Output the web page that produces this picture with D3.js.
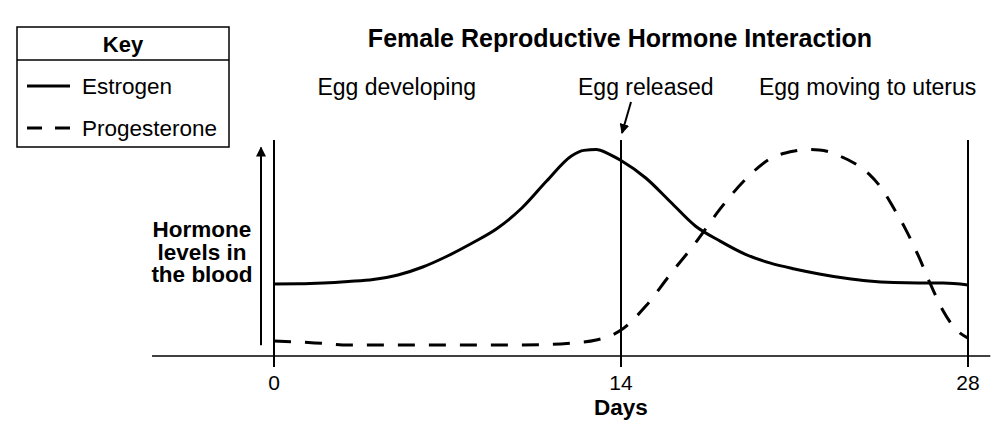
<!DOCTYPE html>
<html>
<head>
<meta charset="utf-8">
<script src="https://cdn.jsdelivr.net/npm/d3@7"></script>
<style>
  body { margin: 0; background: #fff; }
  svg { font-family: "Liberation Sans", Arial, sans-serif; }
  .bold { font-weight: bold; }
</style>
</head>
<body>
<svg width="1003" height="436"></svg>
<script>
// hormone levels (arbitrary 0-100 scale)
var estrogenDays = [0, 1, 2, 3, 4, 5, 6, 7, 8, 9, 10, 11, 12, 12.5, 13, 13.5, 14, 15, 16, 17, 18, 19, 20, 21, 22, 23, 24, 25, 26, 27, 28];
var estrogen = [33.3, 33.4, 33.8, 34.5, 35.4, 37.5, 41.2, 46.3, 52.3, 59.0, 68.5, 81.0, 92.6, 95.2, 95.6, 93.6, 90.5, 82.4, 71.3, 60.2, 53.2, 47.2, 43.1, 40.3, 38.0, 36.1, 34.7, 34.0, 33.8, 33.8, 32.9];

var progesteroneDays = [0, 1, 2, 3, 5, 7, 9, 11, 12, 13, 14, 15, 16, 17, 18, 19, 20, 21, 21.5, 22, 23, 24, 24.5, 25, 25.5, 26, 26.5, 27, 27.5, 28];
var progesterone = [6.9, 6.5, 5.8, 5.1, 5.1, 5.1, 5.1, 5.3, 6.0, 7.4, 12.0, 23.1, 38.0, 52.3, 68.1, 81.5, 91.2, 94.9, 95.6, 95.4, 91.7, 84.3, 77.8, 68.5, 58.3, 46.3, 32.9, 20.8, 12.5, 8.3];

var dayTicks = [0, 14, 28];
var phases = ["Egg developing", "Egg released", "Egg moving to uterus"];
var phaseCenters = [4.95, 15.0, 23.95];
var seriesNames = ["Estrogen", "Progesterone"];

var svg = d3.select("svg");

var x = d3.scaleLinear().domain([0, 28]).range([274, 968]);
var y = d3.scaleLinear().domain([0, 100]).range([356, 140]);

var line = d3.line()
    .x(function (d) { return x(d[0]); })
    .y(function (d) { return y(d[1]); })
    .curve(d3.curveMonotoneX);

// arrow marker
svg.append("defs").append("marker")
    .attr("id", "arrow")
    .attr("viewBox", "0 0 10 10")
    .attr("refX", 9).attr("refY", 5)
    .attr("markerWidth", 10).attr("markerHeight", 10)
    .attr("markerUnits", "userSpaceOnUse")
    .attr("orient", "auto")
  .append("path")
    .attr("d", "M0,0 L10,5 L0,10 z")
    .attr("fill", "#000");

// x baseline
svg.append("line")
    .attr("x1", x(-4.92)).attr("x2", x(28.9))
    .attr("y1", y(0)).attr("y2", y(0))
    .attr("stroke", "#000").attr("stroke-width", 1.6);

// vertical day lines
svg.selectAll(".day-line")
    .data(dayTicks)
  .enter().append("line")
    .attr("class", "day-line")
    .attr("x1", function (d) { return x(d); })
    .attr("x2", function (d) { return x(d); })
    .attr("y1", y(100))
    .attr("y2", y(0) + 11)
    .attr("stroke", "#000").attr("stroke-width", 2);

svg.selectAll(".day-label")
    .data(dayTicks)
  .enter().append("text")
    .attr("class", "day-label")
    .attr("x", function (d) { return x(d); })
    .attr("y", 390)
    .attr("text-anchor", "middle")
    .attr("font-size", 21)
    .text(function (d) { return d; });

svg.append("text")
    .attr("class", "bold")
    .attr("x", x(14))
    .attr("y", 415)
    .attr("text-anchor", "middle")
    .attr("font-size", 22.5)
    .text("Days");

// y arrow
svg.append("line")
    .attr("x1", 261).attr("x2", 261)
    .attr("y1", y(5)).attr("y2", y(96.5))
    .attr("stroke", "#000").attr("stroke-width", 2)
    .attr("marker-end", "url(#arrow)");

var yLabel = svg.append("text")
    .attr("class", "bold")
    .attr("text-anchor", "middle")
    .attr("font-size", 22.5);
["Hormone", "levels in", "the blood"].forEach(function (t, i) {
  yLabel.append("tspan").attr("x", 202).attr("y", 237 + i * 22.5).text(t);
});

// curves
svg.append("path")
    .datum(d3.zip(estrogenDays, estrogen))
    .attr("d", line)
    .attr("fill", "none")
    .attr("stroke", "#000")
    .attr("stroke-width", 3);

svg.append("path")
    .datum(d3.zip(progesteroneDays, progesterone))
    .attr("d", line)
    .attr("fill", "none")
    .attr("stroke", "#000")
    .attr("stroke-width", 3)
    .attr("stroke-dasharray", "17,14");

// title and phase labels
svg.append("text")
    .attr("class", "bold")
    .attr("x", 620)
    .attr("y", 47)
    .attr("text-anchor", "middle")
    .attr("font-size", 25)
    .text("Female Reproductive Hormone Interaction");

svg.selectAll(".phase")
    .data(phases)
  .enter().append("text")
    .attr("class", "phase")
    .attr("x", function (d, i) { return x(phaseCenters[i]); })
    .attr("y", 95)
    .attr("text-anchor", "middle")
    .attr("font-size", 23)
    .text(function (d) { return d; });

svg.append("line")
    .attr("x1", x(14) + 10).attr("x2", x(14) + 1)
    .attr("y1", 102).attr("y2", 133)
    .attr("stroke", "#000").attr("stroke-width", 2)
    .attr("marker-end", "url(#arrow)");

// key
var key = svg.append("g");
key.append("rect")
    .attr("x", 17).attr("y", 27)
    .attr("width", 212).attr("height", 120)
    .attr("fill", "#fff").attr("stroke", "#000").attr("stroke-width", 1.5);
key.append("line")
    .attr("x1", 17).attr("x2", 229)
    .attr("y1", 60).attr("y2", 60)
    .attr("stroke", "#000").attr("stroke-width", 1.5);
key.append("text")
    .attr("class", "bold")
    .attr("x", 123).attr("y", 52)
    .attr("text-anchor", "middle")
    .attr("font-size", 22)
    .text("Key");

var items = key.selectAll(".item")
    .data(seriesNames)
  .enter().append("g")
    .attr("class", "item")
    .attr("transform", function (d, i) { return "translate(0," + (86 + i * 42) + ")"; });
items.append("line")
    .attr("x1", 27).attr("x2", 70)
    .attr("stroke", "#000").attr("stroke-width", 3)
    .attr("stroke-dasharray", function (d, i) { return i ? "15,13" : null; });
items.append("text")
    .attr("x", 82).attr("y", 8)
    .attr("font-size", 22.5)
    .text(function (d) { return d; });
</script>
</body>
</html>
